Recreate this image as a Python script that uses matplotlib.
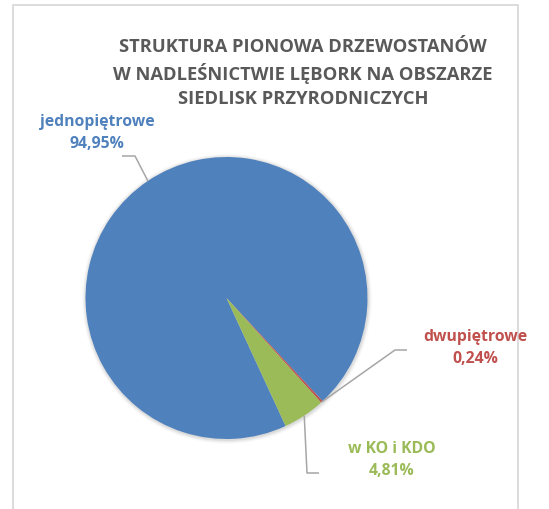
import numpy as np
import matplotlib.pyplot as plt
from matplotlib.patches import Circle

plt.rcParams['font.family'] = ['Open Sans', 'DejaVu Sans']

title = 'STRUKTURA PIONOWA DRZEWOSTANÓW\nW NADLEŚNICTWIE LĘBORK NA OBSZARZE\nSIEDLISK PRZYRODNICZYCH'
categories = ['jednopiętrowe', 'dwupiętrowe', 'w KO i KDO']
shares = [94.95, 0.24, 4.81]
colors = ['#4F81BD', '#C0504D', '#9BBB59']

W, H = 549, 510
fig = plt.figure(figsize=(W / 100, H / 100), dpi=100)
ax = fig.add_axes([0, 0, 1, 1])

# work in pixel units, y pointing up
cx, cy, r = 226.5, H - 299, 141

# soft shadow round the pie
for k, a in enumerate([0.05, 0.04, 0.03, 0.02]):
    ax.add_patch(Circle((cx + 0.5, cy - 0.8), r + 1 + k, color='k', alpha=a, lw=0, zorder=0))

# first slice starts at about 155 deg clockwise from 12 o'clock
wedges, _ = ax.pie(shares, colors=colors, startangle=90 - 155.2, counterclock=False,
                   center=(cx, cy), radius=r, wedgeprops=dict(linewidth=0, zorder=2))

def fmt(v):
    return f'{v:.2f}'.replace('.', ',') + '%'

# label text centre and leader elbow/end (px, y down)
label_pos = [(97, 133), (475, 348), (392, 460)]
elbows = [[(122, 157), (135, 157)], [(407, 351), (395, 351)], [(319, 474), (307, 474)]]

for w, cat, val, col, (tx, ty), el in zip(wedges, categories, shares, colors, label_pos, elbows):
    mid = np.deg2rad((w.theta1 + w.theta2) / 2)
    ex, ey = cx + r * np.cos(mid), cy + r * np.sin(mid)
    xs = [el[0][0], el[1][0], ex]
    ys = [H - el[0][1], H - el[1][1], ey]
    ax.plot(xs, ys, color='#A6A6A6', lw=1.1, zorder=3, solid_capstyle='butt')
    ax.text(tx, H - ty, cat + '\n' + fmt(val), color=col, fontsize=11.3, fontweight='bold',
            ha='center', va='center', linespacing=1.5, zorder=4)

ax.text(303, H - 73, title, color='#595959', fontsize=13.2, fontweight='bold',
        ha='center', va='center', linespacing=1.4)

# chart frame
ax.plot([13, 13, 518, 518], [0, H - 6, H - 6, 0], color='#D9D9D9', lw=1.3, zorder=1)

ax.set_xlim(0, W)
ax.set_ylim(0, H)
ax.set_aspect('auto')
ax.axis('off')

fig.savefig('out.png', dpi=100)
